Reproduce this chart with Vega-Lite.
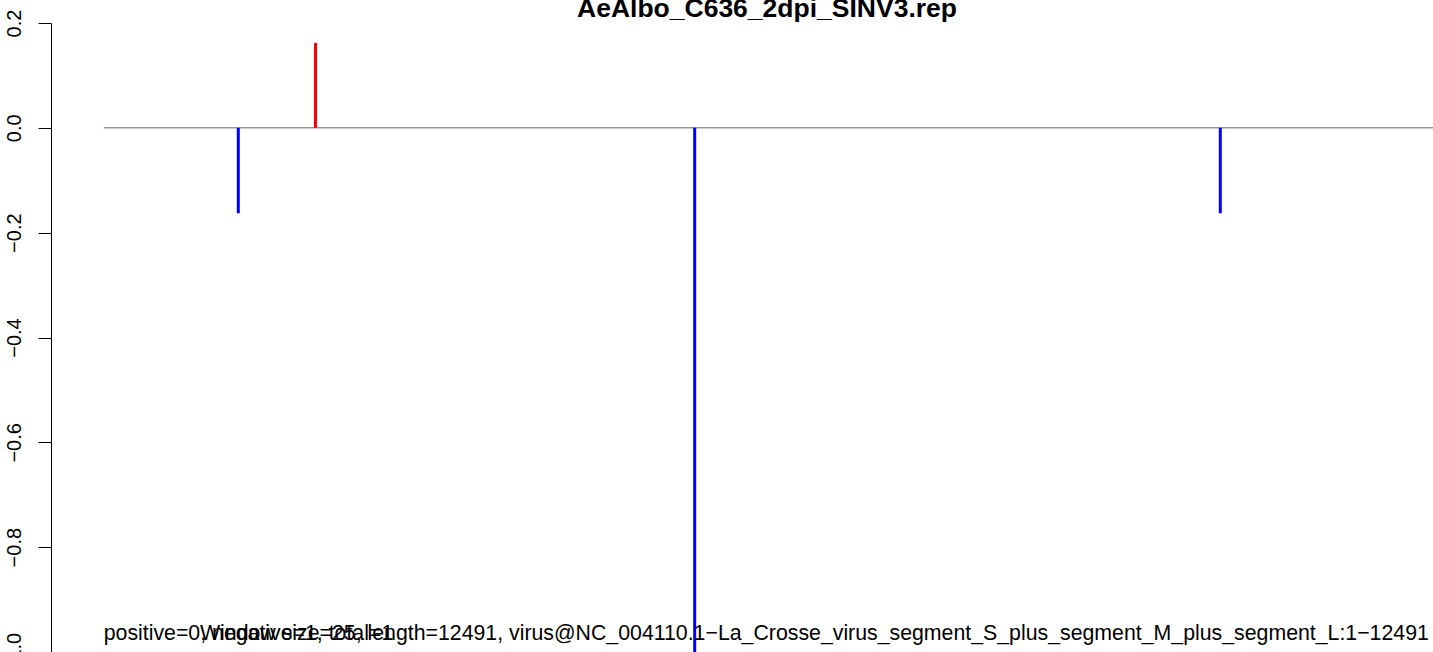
{
  "$schema": "https://vega.github.io/schema/vega-lite/v6.json",
  "width": 1382,
  "height": 629,
  "autosize": {"type": "none"},
  "padding": {"left": 51, "top": 23, "right": 0, "bottom": 0},
  "background": "white",
  "config": {"view": {"stroke": null}, "font": "Liberation Sans"},
  "title": {
    "text": "AeAlbo_C636_2dpi_SINV3.rep",
    "font": "Liberation Sans",
    "fontSize": 26.5,
    "fontWeight": "bold",
    "anchor": "middle",
    "frame": "group",
    "dx": 25,
    "dy": 40,
    "baseline": "alphabetic",
    "offset": 6,
    "color": "black"
  },
  "datasets": {
    "baseline": [{"start": 0, "end": 12605, "level": 0}],
    "bars": [
      {"pos": 1276, "value": -0.163, "strand": "negative"},
      {"pos": 2008, "value": 0.162, "strand": "positive"},
      {"pos": 5604, "value": -1.0, "strand": "negative"},
      {"pos": 10588, "value": -0.163, "strand": "negative"}
    ],
    "notes": [
      {"pos": 0, "level": -0.977, "label": "positive=0, negative=1, total=1"},
      {"pos": 913, "level": -0.977, "label": "Window size=25, length=12491, virus@NC_004110.1−La_Crosse_virus_segment_S_plus_segment_M_plus_segment_L:1−12491"}
    ]
  },
  "layer": [
    {
      "data": {"name": "baseline"},
      "mark": {"type": "rule", "color": "#666666", "strokeWidth": 1},
      "encoding": {
        "x": {"field": "start", "type": "quantitative", "scale": {"domain": [-500, 12605], "nice": false, "zero": false}, "axis": null},
        "x2": {"field": "end"},
        "y": {
          "field": "level",
          "type": "quantitative",
          "scale": {"domain": [-1, 0.2], "nice": false, "zero": false},
          "axis": {
            "values": [-1, -0.8, -0.6, -0.4, -0.2, 0, 0.2],
            "labelExpr": "replace(format(datum.value,'.1f'),'-','−')",
            "labelAngle": -90,
            "labelAlign": "center",
            "labelBaseline": "alphabetic",
            "labelPadding": 18,
            "tickSize": 13,
            "tickColor": "black",
            "tickWidth": 1,
            "domainColor": "black",
            "domainWidth": 1,
            "labelColor": "black",
            "labelFontSize": 20,
            "labelFont": "Liberation Sans",
            "grid": false,
            "title": null,
            "labelOverlap": false,
            "labelBound": false,
            "labelFlush": false
          }
        }
      }
    },
    {
      "data": {"name": "bars"},
      "mark": {"type": "rule", "strokeWidth": 3},
      "encoding": {
        "x": {"field": "pos", "type": "quantitative"},
        "y": {"field": "value", "type": "quantitative"},
        "y2": {"datum": 0},
        "color": {"field": "strand", "type": "nominal", "scale": {"domain": ["negative", "positive"], "range": ["#0000FF", "#FF0000"]}, "legend": null}
      }
    },
    {
      "data": {"name": "notes"},
      "mark": {"type": "text", "align": "left", "baseline": "alphabetic", "fontSize": 21.3, "font": "Liberation Sans", "color": "black"},
      "encoding": {
        "x": {"field": "pos", "type": "quantitative"},
        "y": {"field": "level", "type": "quantitative"},
        "text": {"field": "label"}
      }
    }
  ]
}
